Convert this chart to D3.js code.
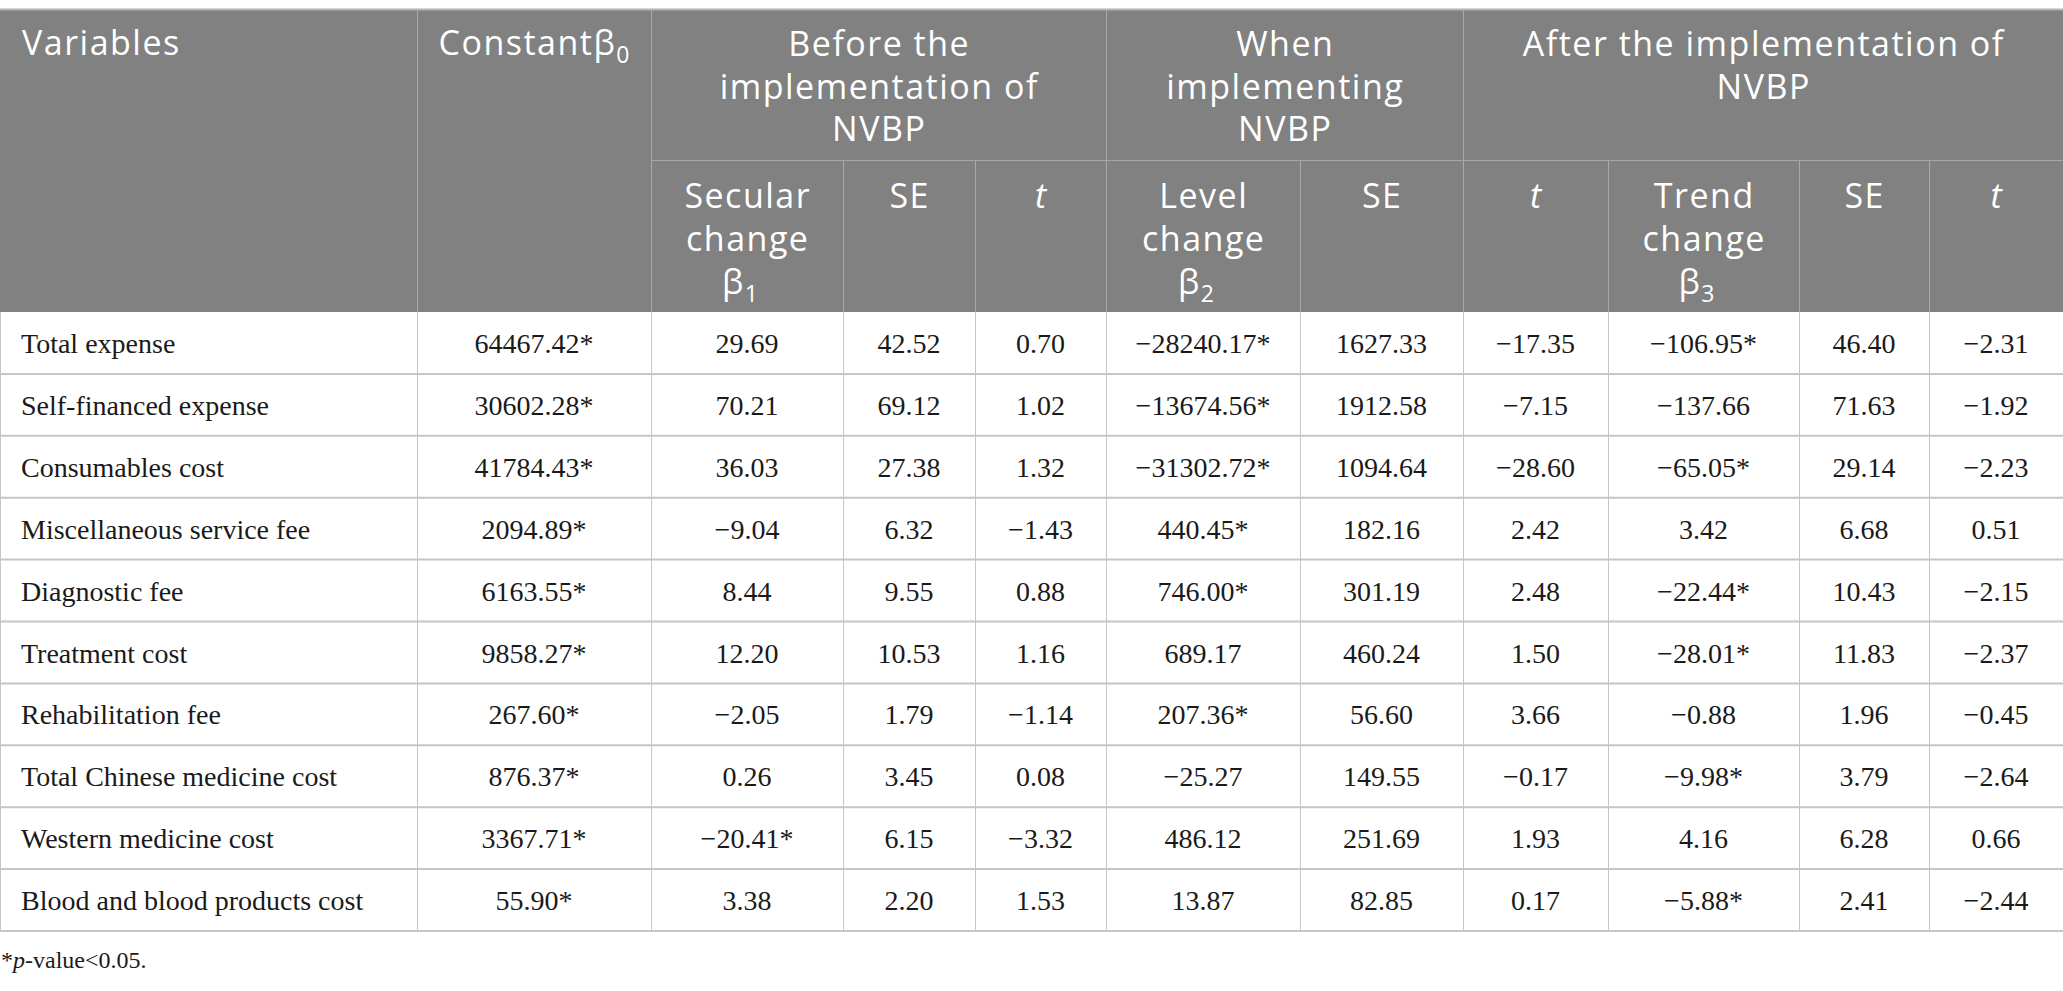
<!DOCTYPE html>
<html>
<head>
<meta charset="utf-8">
<script src="https://cdn.jsdelivr.net/npm/d3@7"></script>
<style>
  body { margin: 0; background: #fff; }
  svg { display: block; }
</style>
</head>
<body>
<div id="chart"></div>
<script>
// table values
const variables = [
  "Total expense", "Self-financed expense", "Consumables cost", "Miscellaneous service fee",
  "Diagnostic fee", "Treatment cost", "Rehabilitation fee", "Total Chinese medicine cost",
  "Western medicine cost", "Blood and blood products cost"
];
const constant = [64467.42, 30602.28, 41784.43, 2094.89, 6163.55, 9858.27, 267.60, 876.37, 3367.71, 55.90];
const constantSig = [1, 1, 1, 1, 1, 1, 1, 1, 1, 1];
const secular = [29.69, 70.21, 36.03, -9.04, 8.44, 12.20, -2.05, 0.26, -20.41, 3.38];
const secularSig = [0, 0, 0, 0, 0, 0, 0, 0, 1, 0];
const se1 = [42.52, 69.12, 27.38, 6.32, 9.55, 10.53, 1.79, 3.45, 6.15, 2.20];
const t1 = [0.70, 1.02, 1.32, -1.43, 0.88, 1.16, -1.14, 0.08, -3.32, 1.53];
const level = [-28240.17, -13674.56, -31302.72, 440.45, 746.00, 689.17, 207.36, -25.27, 486.12, 13.87];
const levelSig = [1, 1, 1, 1, 1, 0, 1, 0, 0, 0];
const se2 = [1627.33, 1912.58, 1094.64, 182.16, 301.19, 460.24, 56.60, 149.55, 251.69, 82.85];
const t2 = [-17.35, -7.15, -28.60, 2.42, 2.48, 1.50, 3.66, -0.17, 1.93, 0.17];
const trend = [-106.95, -137.66, -65.05, 3.42, -22.44, -28.01, -0.88, -9.98, 4.16, -5.88];
const trendSig = [1, 0, 1, 0, 1, 1, 0, 1, 0, 1];
const se3 = [46.40, 71.63, 29.14, 6.68, 10.43, 11.83, 1.96, 3.79, 6.28, 2.41];
const t3 = [-2.31, -1.92, -2.23, 0.51, -2.15, -2.37, -0.45, -2.64, 0.66, -2.44];

const groupHeads = [
  {lines: ["Before the", "implementation of", "NVBP"], from: 2, to: 5},
  {lines: ["When", "implementing", "NVBP"], from: 5, to: 7},
  {lines: ["After the implementation of", "NVBP"], from: 7, to: 11}
];
// sub headers: [lines, subscript, italic]
const subHeads = [
  [["Secular", "change", "β"], "1", false],
  [["SE"], null, false],
  [["t"], null, true],
  [["Level", "change", "β"], "2", false],
  [["SE"], null, false],
  [["t"], null, true],
  [["Trend", "change", "β"], "3", false],
  [["SE"], null, false],
  [["t"], null, true]
];
const footnote = "-value<0.05.";

// layout
const W = 2063, H = 991;
const colEdges = [0, 417, 651, 843, 975, 1106, 1300, 1463, 1608, 1799, 1929, 2063];
const topY = 10, midY = 160, headBottom = 312, tableBottom = 931;
const headColor = "#808180", headLine = "#a8a8a8", gridColor = "#c6c6c6";
const sans = "'Open Sans', 'Noto Sans', sans-serif";
const serif = "'Liberation Serif', 'DejaVu Serif', serif";
const ls = 1.5; // header letter spacing

const fmt = d3.format(".2f");
const columns = [
  [constant, constantSig], [secular, secularSig], [se1], [t1],
  [level, levelSig], [se2], [t2], [trend, trendSig], [se3], [t3]
];

const y = d3.scaleLinear().domain([0, variables.length]).range([headBottom, tableBottom]);
const x = i => colEdges[i];
const cx = i => (colEdges[i] + colEdges[i + 1]) / 2;

const svg = d3.select("#chart").append("svg")
  .attr("width", W).attr("height", H);

// header background
svg.append("rect")
  .attr("x", 0).attr("y", topY)
  .attr("width", W).attr("height", headBottom - topY)
  .attr("fill", headColor);
svg.append("line")
  .attr("x1", 0).attr("x2", W).attr("y1", topY - 0.5).attr("y2", topY - 0.5)
  .attr("stroke", "#b4b4b4").attr("stroke-width", 2);

// header grid
const hg = svg.append("g").attr("stroke", headLine).attr("stroke-width", 1);
hg.append("line")
  .attr("x1", x(2)).attr("x2", W).attr("y1", midY + 0.5).attr("y2", midY + 0.5);
[1, 2, 5, 7].forEach(i => {
  hg.append("line").attr("x1", x(i) + 0.5).attr("x2", x(i) + 0.5)
    .attr("y1", topY).attr("y2", headBottom);
});
[3, 4, 6, 8, 9, 10].forEach(i => {
  hg.append("line").attr("x1", x(i) + 0.5).attr("x2", x(i) + 0.5)
    .attr("y1", midY).attr("y2", headBottom);
});

const ht = svg.append("g")
  .attr("fill", "#fff")
  .style("font-family", sans)
  .style("font-size", "34px")
  .style("letter-spacing", ls + "px");

ht.append("text").attr("x", 22).attr("y", 55).text("Variables");

const cst = ht.append("text").attr("x", cx(1) + ls / 2).attr("y", 55).attr("text-anchor", "middle");
cst.append("tspan").text("Constantβ");
cst.append("tspan").attr("dy", 8).style("font-size", "23px").text("0");

groupHeads.forEach(g => {
  const mid = (x(g.from) + x(g.to)) / 2 + ls / 2;
  const t = ht.append("text").attr("text-anchor", "middle");
  g.lines.forEach((l, k) => {
    t.append("tspan").attr("x", mid).attr("y", 56 + k * 42.5).text(l);
  });
});

subHeads.forEach((s, i) => {
  const t = ht.append("text").attr("text-anchor", "middle")
    .style("font-style", s[2] ? "italic" : "normal");
  s[0].forEach((l, k) => {
    t.append("tspan").attr("x", cx(i + 2) + ls / 2 - (s[1] && k === 2 ? 7 : 0))
      .attr("y", 208 + k * 43).text(l);
  });
  if (s[1]) t.append("tspan").attr("dy", 8).style("font-size", "23px").text(s[1]);
});

// body grid
const bg = svg.append("g").attr("stroke", gridColor);
variables.forEach((v, r) => {
  bg.append("line").attr("x1", 0).attr("x2", W)
    .attr("y1", y(r + 1)).attr("y2", y(r + 1)).attr("stroke-width", 2);
});
d3.range(1, 11).forEach(i => {
  bg.append("line").attr("x1", x(i) + 0.5).attr("x2", x(i) + 0.5)
    .attr("y1", headBottom).attr("y2", tableBottom).attr("stroke-width", 1);
});
bg.append("line").attr("x1", 0.5).attr("x2", 0.5)
  .attr("y1", headBottom).attr("y2", tableBottom).attr("stroke-width", 1);

// body text
const body = svg.append("g")
  .attr("fill", "#1a1a1a")
  .style("font-family", serif)
  .style("font-size", "28px");

body.selectAll("text.var").data(variables).join("text")
  .attr("class", "var")
  .attr("x", 21)
  .attr("y", (d, r) => y(r) + 41)
  .text(d => d);

columns.forEach((c, i) => {
  body.selectAll("text.c" + i).data(c[0]).join("text")
    .attr("class", "c" + i)
    .attr("x", cx(i + 1))
    .attr("y", (d, r) => y(r) + 41)
    .attr("text-anchor", "middle")
    .text((d, r) => fmt(d) + (c[1] && c[1][r] ? "*" : ""));
});

// footnote
const fn = svg.append("text")
  .attr("x", 1).attr("y", 968)
  .attr("fill", "#1a1a1a")
  .style("font-family", serif)
  .style("font-size", "24px");
fn.append("tspan").text("*");
fn.append("tspan").style("font-style", "italic").text("p");
fn.append("tspan").text(footnote);
</script>
</body>
</html>
